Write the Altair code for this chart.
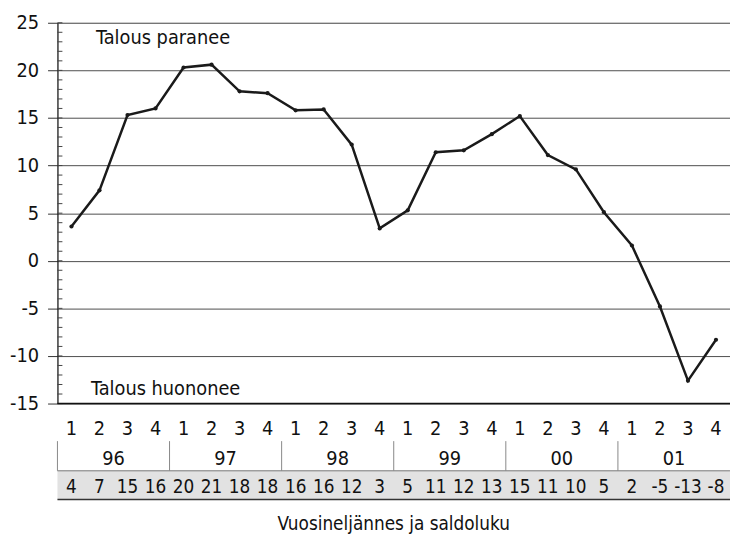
import altair as alt
import pandas as pd

# ---- data ----
quarters = [1, 2, 3, 4] * 6
years = ["96", "97", "98", "99", "00", "01"]
saldo_labels = ["4", "7", "15", "16", "20", "21", "18", "18", "16", "16", "12", "3",
                "5", "11", "12", "13", "15", "11", "10", "5", "2", "-5", "-13", "-8"]
values = [3.6, 7.4, 15.3, 16.0, 20.3, 20.6, 17.8, 17.6, 15.8, 15.9, 12.2, 3.4,
          5.3, 11.4, 11.6, 13.3, 15.2, 11.1, 9.6, 5.1, 1.6, -4.8, -12.6, -8.3]
y_ticks = [-15, -10, -5, 0, 5, 10, 15, 20, 25]
minor_ticks = list(range(-15, 26))
annotations = ["Talous paranee", "Talous huononee"]
annot_x = [0.88, 0.70]
annot_y = [23.4, -13.5]
x_title = "Vuosineljännes ja saldoluku"

FONT = "DejaVu Sans Condensed, Roboto, sans-serif"
FS = 20
W, H = 680, 385

df = pd.DataFrame({
    "i": list(range(len(values))),
    "value": values,
    "q": [str(q) for q in quarters],
    "saldo": saldo_labels,
})
df_years = pd.DataFrame({
    "year": years,
    "center": [4 * k + 1.5 for k in range(len(years))],
    "start": [4 * k - 0.5 for k in range(len(years))],
})
df_minor = pd.DataFrame({"v": minor_ticks})
df_annot = pd.DataFrame({"t": annotations, "x": annot_x, "y": annot_y})
df_band = pd.DataFrame({"x0": [-0.5], "x1": [len(values) - 0.5], "t": [x_title], "c": [(len(values) - 1) / 2]})

xs = alt.Scale(domain=[-0.5, len(values) - 0.5], nice=False, zero=False)
ys = alt.Scale(domain=[-15, 25], nice=False, zero=False)

X = lambda f: alt.X(f, scale=xs, axis=None)

base_y_axis = alt.Axis(values=y_ticks, grid=True, gridColor="#4d4d4d", gridWidth=1,
                       tickSize=10, tickColor="#333", tickWidth=1,
                       domainColor="#111", domainWidth=1.2,
                       labelExpr="'' + datum.value",
                       labelFont=FONT, labelFontSize=FS, labelColor="#111",
                       labelPadding=9, title=None)

line = alt.Chart(df).mark_line(color="#1a1a1a", strokeWidth=2.5).encode(
    x=X("i:Q"), y=alt.Y("value:Q", scale=ys, axis=base_y_axis))
pts = alt.Chart(df).mark_circle(size=18, color="#1a1a1a", opacity=1).encode(
    x=X("i:Q"), y=alt.Y("value:Q", scale=ys))

minor = alt.Chart(df_minor).mark_rule(color="#444", strokeWidth=1).encode(
    x=alt.value(0), x2=alt.value(5), y=alt.Y("v:Q", scale=ys))

bottom_axis = alt.Chart(df_band).mark_rule(color="#111", strokeWidth=1.5).encode(
    x=X("x0:Q"), x2="x1:Q", y=alt.datum(-15, scale=ys))

annot = alt.Chart(df_annot).mark_text(align="left", baseline="middle", font=FONT,
                                      fontSize=FS, color="#111").encode(
    x=X("x:Q"), y=alt.Y("y:Q", scale=ys), text="t:N")

qtext = alt.Chart(df).mark_text(baseline="middle", font=FONT, fontSize=FS, color="#111").encode(
    x=X("i:Q"), y=alt.value(H + 26), text="q:N")

ysep = alt.Chart(df_years).mark_rule(color="#888", strokeWidth=1).encode(
    x=X("start:Q"), y=alt.value(H + 38), y2=alt.value(H + 68))

ytext = alt.Chart(df_years).mark_text(baseline="middle", font=FONT, fontSize=FS, color="#111").encode(
    x=X("center:Q"), y=alt.value(H + 56), text="year:N")

band = alt.Chart(df_band).mark_rect(color="#e2e2e2").encode(
    x=X("x0:Q"), x2="x1:Q", y=alt.value(H + 68), y2=alt.value(H + 97))
band_top = alt.Chart(df_band).mark_rule(color="#777", strokeWidth=1).encode(
    x=X("x0:Q"), x2="x1:Q", y=alt.value(H + 68))
band_bot = alt.Chart(df_band).mark_rule(color="#333", strokeWidth=1.5).encode(
    x=X("x0:Q"), x2="x1:Q", y=alt.value(H + 97))

stext = alt.Chart(df).mark_text(baseline="middle", font=FONT, fontSize=FS - 1, color="#111").encode(
    x=X("i:Q"), y=alt.value(H + 84), text="saldo:N")

title = alt.Chart(df_band).mark_text(baseline="middle", font=FONT, fontSize=FS - 1, color="#111").encode(
    x=X("c:Q"), y=alt.value(H + 122), text="t:N")

chart = alt.layer(
    minor, band, band_top, band_bot, ysep, bottom_axis, line, pts, annot,
    qtext, ytext, stext, title
).properties(
    width=W, height=H,
    autosize=alt.AutoSizeParams(type="none"),
    padding={"left": 50, "top": 12, "right": 0, "bottom": 132},
).configure_view(stroke=None).configure(background="white")

chart.save("out.html", embed_options={"renderer": "svg", "actions": False})
